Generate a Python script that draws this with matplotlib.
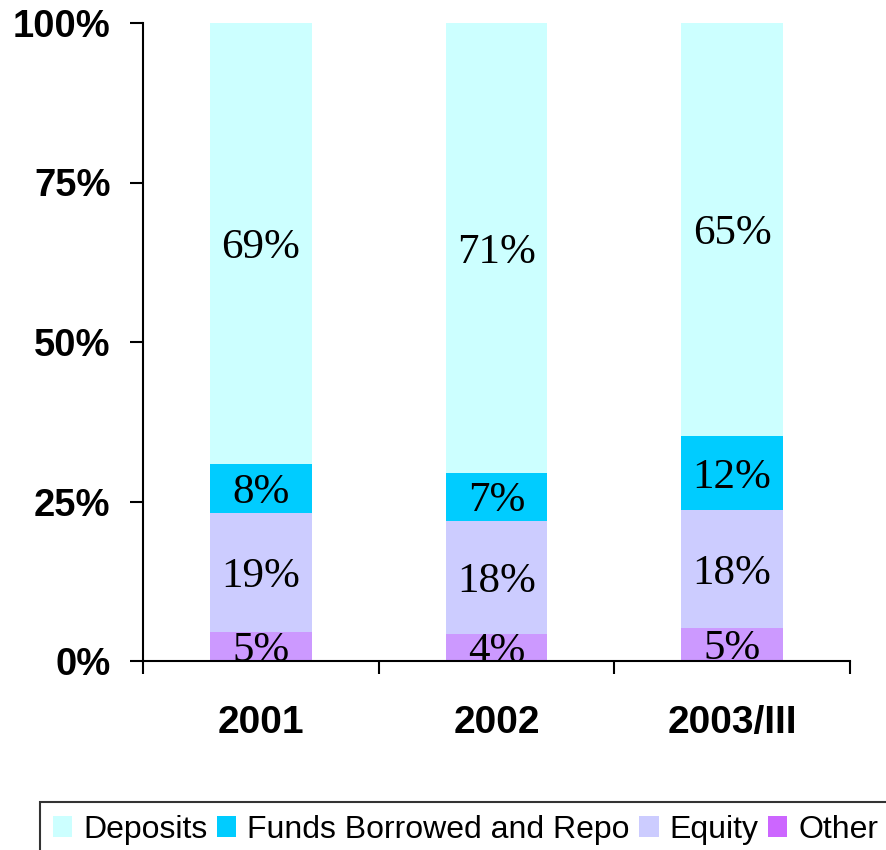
import matplotlib
matplotlib.use("Agg")
import matplotlib.pyplot as plt
from matplotlib.patches import Patch
from matplotlib.ticker import FixedLocator
import numpy as np

# Share of liabilities (%)
years = ["2001", "2002", "2003/III"]
other = [4.6, 4.3, 5.2]
equity = [18.6, 17.7, 18.4]
funds = [7.7, 7.4, 11.7]
deposits = [69.1, 70.6, 64.7]

series_names = ["Other", "Equity", "Funds Borrowed and Repo", "Deposits"]
bar_colors = ["#CC99FF", "#CCCCFF", "#00CCFF", "#CCFFFF"]
legend_colors = {"Deposits": "#CCFFFF", "Funds Borrowed and Repo": "#00CCFF",
                 "Equity": "#CCCCFF", "Other": "#CC66FF"}

fig = plt.figure(figsize=(8.86, 8.5), dpi=100)
ax = fig.add_axes([143 / 886, 1 - 661 / 850, (850 - 143) / 886, (661 - 23) / 850])

x = np.arange(len(years))
bottom = np.zeros(len(years))
for name, vals, col in zip(series_names, [other, equity, funds, deposits], bar_colors):
    vals = np.array(vals)
    ax.bar(x, vals, width=0.43, bottom=bottom, color=col, edgecolor="none", zorder=2)
    for xi, b, v in zip(x, bottom, vals):
        ax.annotate(f"{v:.0f}%", (xi, b + v / 2), xytext=(0, -3), textcoords="offset points",
                    ha="center", va="center", fontsize=31, family="Liberation Serif",
                    color="black", zorder=3)
    bottom += vals

ax.set_xlim(-0.5, 2.5)
ax.set_ylim(0, 100)

for s in ["top", "right"]:
    ax.spines[s].set_visible(False)
for s in ["left", "bottom"]:
    ax.spines[s].set_linewidth(1.5)
    ax.spines[s].set_color("black")

ax.set_yticks([0, 25, 50, 75, 100])
ax.set_yticklabels(["0%", "25%", "50%", "75%", "100%"],
                   fontsize=27.5, fontweight="bold", family="Liberation Sans")
ax.tick_params(axis="y", direction="out", length=9.4, width=1.5, pad=14)

ax.set_xticks(x)
ax.set_xticklabels(years, fontsize=28, fontweight="bold", family="Liberation Sans")
ax.tick_params(axis="x", which="major", length=0, pad=32)
ax.xaxis.set_minor_locator(FixedLocator([-0.5, 0.5, 1.5, 2.5]))
ax.tick_params(axis="x", which="minor", direction="out", length=9.4, width=1.5)

handles = [Patch(facecolor=legend_colors[n], edgecolor="none", label=n)
           for n in ["Deposits", "Funds Borrowed and Repo", "Equity", "Other"]]
leg = fig.legend(handles=handles, loc="upper left", bbox_to_anchor=(40 / 886, 1 - 802 / 850),
                 ncol=4, frameon=True, fancybox=False, shadow=False,
                 prop={"family": "Liberation Sans", "size": 23},
                 handlelength=0.6, handleheight=0.6, handletextpad=0.35,
                 columnspacing=0.3, borderpad=0.4, borderaxespad=0)
leg.get_frame().set_edgecolor("black")
leg.get_frame().set_linewidth(1.5)

fig.savefig("out.png", dpi=100)
